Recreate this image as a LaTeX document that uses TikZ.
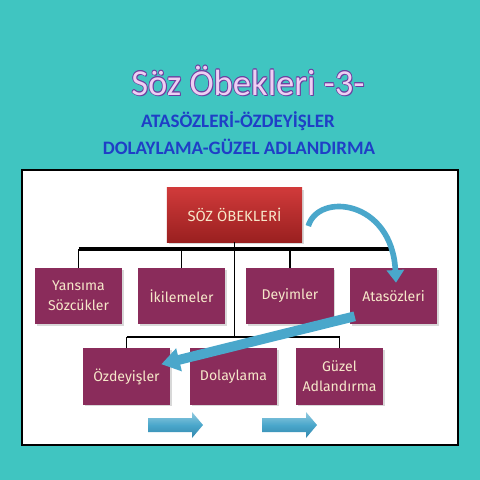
\documentclass[tikz,border=0pt]{standalone}
\usepackage{fontspec}
\setmainfont{Fira Sans}
\newfontfamily\titlefont{Carlito}
\usetikzlibrary{calc,positioning,arrows.meta,shadows}
\definecolor{mteal}{HTML}{40C5C1}
\definecolor{mplum}{HTML}{8A2C5B}
\definecolor{mred}{HTML}{D03A3A}
\definecolor{mdred}{HTML}{9A2020}
\definecolor{mcream}{HTML}{F6E7C9}
\definecolor{mblue}{HTML}{4AA7CB}
\definecolor{mdblue}{HTML}{3286AC}
\definecolor{mlilac}{HTML}{EDCFF3}
\definecolor{mpurple}{HTML}{6E3DA0}
\definecolor{mnavy}{HTML}{1F3FC6}
\tikzstyle{l2}=[line width=1.1pt]
\tikzstyle{l3}=[line width=2.2pt]
\tikzstyle{box}=[rectangle, fill=mplum, text=mcream, minimum width=2.175cm, minimum height=1.4cm, align=center, inner sep=1pt, font=\fontsize{10}{14}\selectfont, drop shadow={opacity=0.3, shadow xshift=0.04cm, shadow yshift=-0.04cm}]
\tikzstyle{rootbox}=[rectangle, top color=mred, bottom color=mdred, text=mcream, minimum width=3.375cm, minimum height=1.35cm, font=\fontsize{10.5}{13}\selectfont, drop shadow={opacity=0.3, shadow xshift=0.04cm, shadow yshift=-0.04cm}]
\tikzstyle{barrow}=[mblue, line width=4pt]
\tikzstyle{blockarrow}=[top color=mblue!60!white, bottom color=mdblue, middle color=mblue]

\begin{document}
\begin{tikzpicture}[x=0.025cm, y=-0.025cm]
    \useasboundingbox (0,0) rectangle (480,480);
    \fill[mteal] (0,0) rectangle (480,480);

    % title lines
    \foreach \dx/\dy in {0.7/0,-0.7/0,0/0.7,0/-0.7,0.5/0.5,-0.5/0.5,0.5/-0.5,-0.5/-0.5,1/1.4}
        \node[anchor=base, text=mpurple, font=\titlefont\fontsize{26}{30}\selectfont] at (248+\dx,95+\dy) {Söz Öbekleri -3-};
    \node[anchor=base, text=mlilac, font=\titlefont\fontsize{26}{30}\selectfont] (title) at (248,95) {Söz Öbekleri -3-};
    \node[anchor=base, text=mnavy, font=\titlefont\bfseries\fontsize{13.5}{16}\selectfont] (sub1) at (238,127) {ATASÖZLERİ-ÖZDEYİŞLER};
    \node[anchor=base, text=mnavy, font=\titlefont\bfseries\fontsize{13.5}{16}\selectfont] (sub2) at (239,154) {DOLAYLAMA-GÜZEL ADLANDIRMA};

    \draw[fill=white, draw=black, line width=1.6pt] (22,170) rectangle (458,445);

    \coordinate (bus) at (0,249);
    \coordinate (lbus) at (0,337);

    \node[rootbox] (soz) at (234.5,215) {SÖZ ÖBEKLERİ};

    \node[box] (yans) at (78.5,296) {Yansıma\\Sözcükler};
    \node[box] (ikil) at (181.5,296) {İkilemeler};
    \node[box] (deyi) at (290,296) {Deyimler};
    \node[box] (atas) at (393.5,296) {Atasözleri};

    \node[box] (ozde) at (126.5,376.5) {Özdeyişler};
    \node[box] (dola) at (233.5,376.5) {Dolaylama};
    \node[box] (guze) at (339.5,376.5) {Güzel\\Adlandırma};

    \draw[l3] (yans.north |- bus) -- (atas.north |- bus);
    \draw[l2] (soz.south) -- (soz.south |- lbus);
    \foreach \n in {yans, ikil, deyi, atas}
        \draw[l2] (\n.north) -- (\n.north |- bus);
    \draw[l2] (ozde.north |- lbus) -- (guze.north |- lbus);
    \foreach \n in {ozde, guze}
        \draw[l2] (\n.north) -- (\n.north |- lbus);

    % blue arrows
    \coordinate (c1s) at ($(soz.east)+(6,11)$);
    \coordinate (c1e) at ($(atas.north)+(2.5,15)$);
    \draw[barrow, -{Triangle[width=12pt,length=9pt]}] (c1s) .. controls ($(c1s)+(10,-34)$) and ($(c1e)+(-4,-83)$) .. (c1e);
    \coordinate (c2s) at ($(atas.south west)+(5,-8)$);
    \coordinate (c2e) at ($(ozde.north east)+(-9,16)$);
    \draw[barrow, line width=7pt, -{Triangle[width=16pt,length=13pt]}] (c2s) -- (c2e);

    \foreach \xa in {148,262}
        \path[blockarrow] (\xa,418) -- (\xa+44,418) -- (\xa+44,412) -- (\xa+55,425) -- (\xa+44,438) -- (\xa+44,432) -- (\xa,432) -- cycle;
\end{tikzpicture}
\end{document}
